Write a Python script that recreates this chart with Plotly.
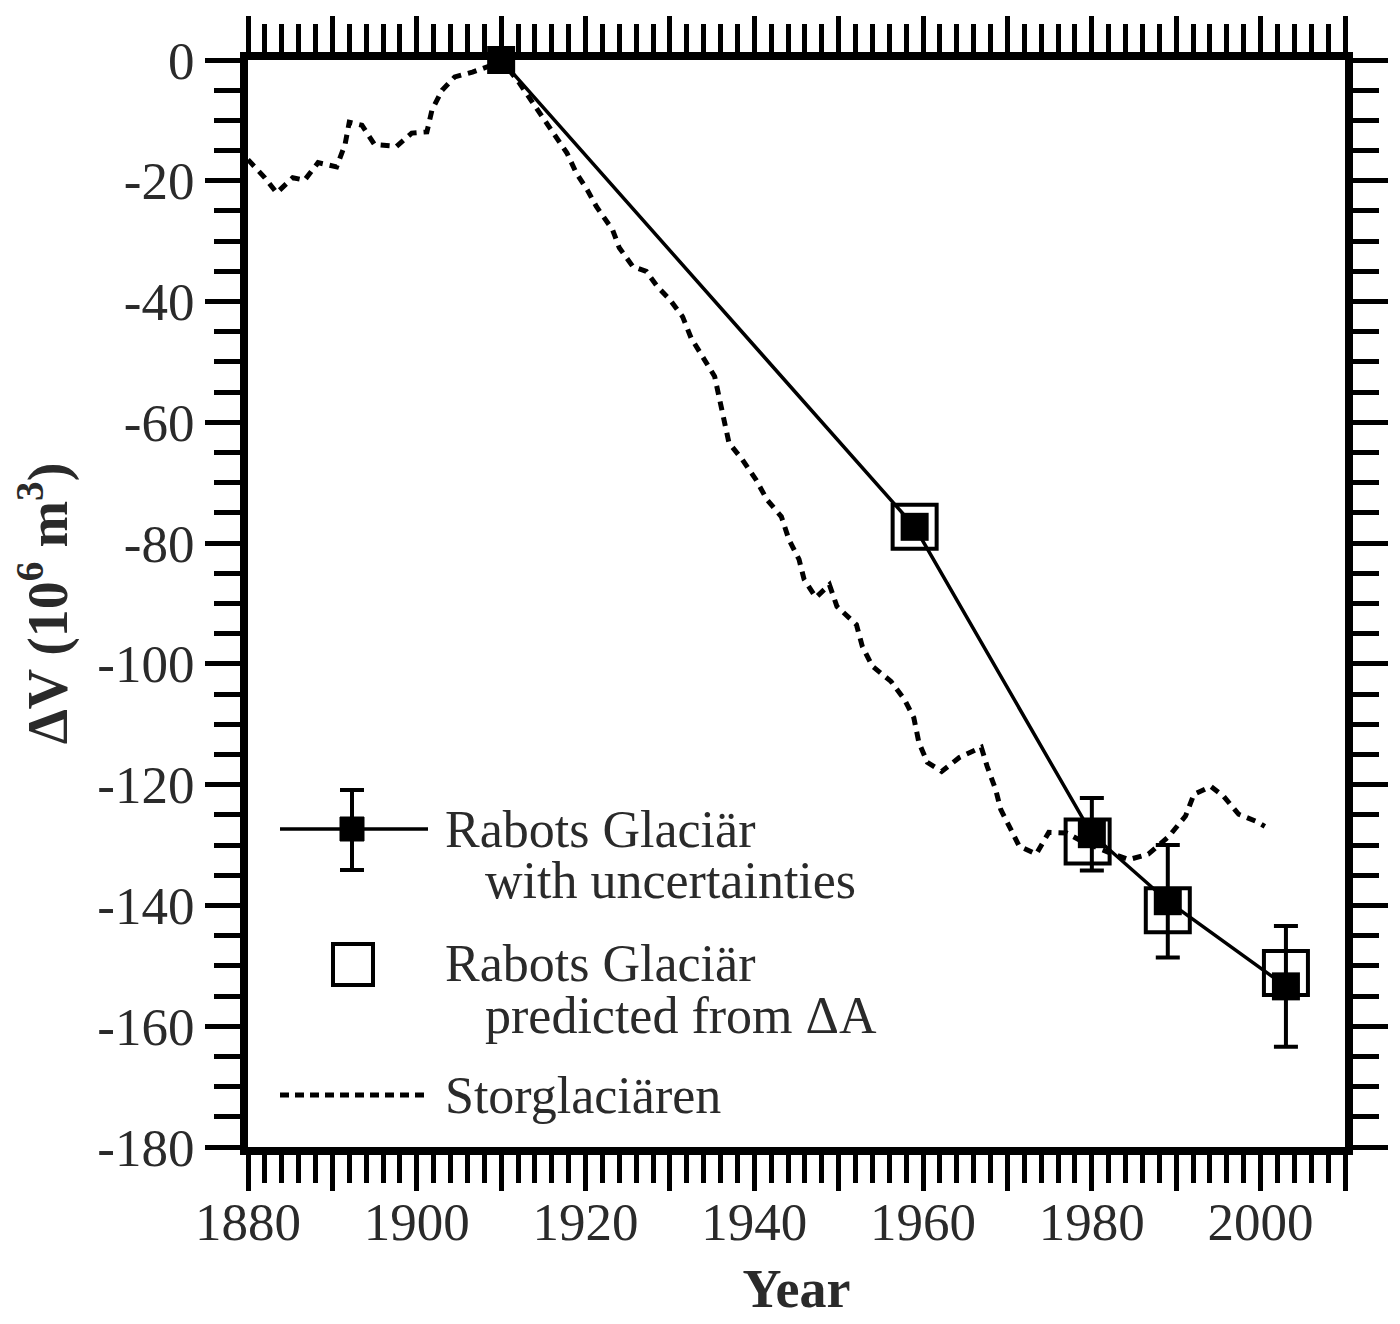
import plotly.graph_objects as go

# Rabots Glaciär, measured volume change with uncertainties
rabots_years = [1910, 1959, 1980, 1989, 2003]
rabots_dv = [0, -77.3, -128.2, -139.3, -153.4]
rabots_err = [0, 0, 6.0, 9.3, 10.0]

# Rabots Glaciär, predicted from area change
pred_years = [1959, 1979.5, 1989, 2003]
pred_dv = [-77.3, -129.4, -140.8, -151.2]

# Storglaciären volume change
stor_years = [1880, 1882, 1883.4, 1885.3, 1886.7, 1888.3, 1890.5, 1891.5, 1892, 1893.5,
              1895, 1897.6, 1899.4, 1901.2, 1901.8, 1903, 1904.5, 1906.6, 1909, 1910,
              1912, 1916, 1917.8, 1918.9, 1920.2, 1921.3, 1923.2, 1924, 1925.6, 1927.2,
              1928.5, 1930, 1931.5, 1932.5, 1933.9, 1935.3, 1935.9, 1936.4, 1937, 1938.6,
              1940.2, 1941.5, 1943.2, 1944.1, 1945.3, 1945.9, 1947.3, 1948.9, 1949.8, 1952.1,
              1952.8, 1954, 1956.2, 1957.8, 1958.9, 1959.5, 1960.5, 1962.2, 1964.3, 1966.9,
              1967.6, 1968.6, 1969.2, 1970.4, 1971.4, 1973.4, 1974.9, 1977, 1979, 1982,
              1984.4, 1986.7, 1989.1, 1991.1, 1992.1, 1994.1, 1995.6, 1997.4, 1999.5, 2000.5]
stor_dv = [-16.5, -19.5, -22, -19.5, -19.9, -17, -17.7, -14, -10.3, -10.8,
           -14, -14.3, -12.1, -11.9, -8.3, -5, -2.8, -2, -0.8, 0,
           -3.5, -11.6, -15.4, -18.7, -21.5, -24.3, -28.1, -31.1, -34.2, -35,
           -37.5, -39.7, -42.5, -46, -49.1, -52.4, -56.3, -59.6, -63.4, -66.2,
           -69.5, -72.8, -75.6, -79.4, -82.7, -86, -89, -86.9, -90.5, -93.5,
           -97.1, -100.4, -102.9, -105.9, -108.9, -113, -116.3, -117.8, -115.5, -113.8,
           -117, -120.8, -124.1, -127.4, -130.2, -131.5, -127.9, -128, -129.5, -131.2,
           -132.4, -131.5, -128.6, -125.2, -121.6, -120.3, -121.9, -124.9, -126.1, -126.9]

x_ticks = [1880, 1890, 1900, 1910, 1920, 1930, 1940, 1950, 1960, 1970, 1980, 1990, 2000, 2010]
x_labels = ["1880", "", "1900", "", "1920", "", "1940", "", "1960", "", "1980", "", "2000", ""]
y_ticks = [0, -20, -40, -60, -80, -100, -120, -140, -160, -180]
y_labels = ["0", "-20", "-40", "-60", "-80", "-100", "-120", "-140", "-160", "-180"]

legend_labels = [("Rabots Glaciär", "with uncertainties"),
                 ("Rabots Glaciär", "predicted from ΔA"),
                 ("Storglaciären", None)]

SERIF = "Liberation Serif"
TXT = "#2a2a2a"

fig = go.Figure()

fig.add_trace(go.Scatter(
    x=stor_years, y=stor_dv, mode="lines",
    line=dict(color="black", width=5, dash="9px,7px"),
    showlegend=False,
))

fig.add_trace(go.Scatter(
    x=pred_years, y=pred_dv, mode="markers",
    marker=dict(symbol="square-open", size=44, color="black", line=dict(width=4)),
    showlegend=False,
))

fig.add_trace(go.Scatter(
    x=rabots_years, y=rabots_dv, mode="lines+markers",
    line=dict(color="black", width=3.5),
    marker=dict(symbol="square", size=28, color="black"),
    error_y=dict(type="data", array=rabots_err, visible=True, color="black",
                 thickness=4, width=12),
    cliponaxis=False,
    showlegend=False,
))

# plot-area edges in page pixels; the page body adds an 8px offset
L, R, T, B = 248, 1345, 60, 1147
OFF = 8
W, H = 1400, 1324


def px(x):
    return (x - L) / (R - L)


def py(y):
    return (B - y) / (B - T)


shapes = [
    # entry 1: line + filled square + error bar
    dict(type="line", xref="paper", yref="paper", x0=px(280), x1=px(428), y0=py(829), y1=py(829),
         line=dict(color="black", width=3.5)),
    dict(type="line", xref="paper", yref="paper", x0=px(352), x1=px(352), y0=py(790), y1=py(870),
         line=dict(color="black", width=4)),
    dict(type="line", xref="paper", yref="paper", x0=px(340), x1=px(364), y0=py(790), y1=py(790),
         line=dict(color="black", width=4)),
    dict(type="line", xref="paper", yref="paper", x0=px(340), x1=px(364), y0=py(870), y1=py(870),
         line=dict(color="black", width=4)),
    dict(type="rect", xref="paper", yref="paper", x0=px(340), x1=px(364), y0=py(817), y1=py(841),
         fillcolor="black", line=dict(color="black", width=1)),
    # entry 2: open square
    dict(type="rect", xref="paper", yref="paper", x0=px(333), x1=px(373), y0=py(944), y1=py(985),
         fillcolor="rgba(0,0,0,0)", line=dict(color="black", width=4)),
    # entry 3: dotted line
    dict(type="line", xref="paper", yref="paper", x0=px(280), x1=px(428), y0=py(1095), y1=py(1095),
         line=dict(color="black", width=5, dash="9px,6px")),
]

annotations = []
label_rows = [(829, 880), (963, 1015), (1095, None)]
for (first, second), (y1, y2) in zip(legend_labels, label_rows):
    annotations.append(dict(xref="paper", yref="paper", x=px(443), y=py(y1), text=first,
                            showarrow=False, xanchor="left", yanchor="middle",
                            font=dict(family=SERIF, size=52, color=TXT)))
    if second:
        annotations.append(dict(xref="paper", yref="paper", x=px(483), y=py(y2), text=second,
                                showarrow=False, xanchor="left", yanchor="middle",
                                font=dict(family=SERIF, size=52, color=TXT)))

axis_common = dict(
    showline=True, linewidth=8, linecolor="black", mirror="ticks",
    ticks="outside", tickwidth=5, tickcolor="black",
    showgrid=False, zeroline=False, automargin=False,
    tickfont=dict(family=SERIF, size=53, color=TXT),
)

fig.update_layout(
    width=W, height=H,
    margin=dict(l=L - OFF, r=W + OFF - R, t=T - OFF, b=H + OFF - B, autoexpand=False),
    paper_bgcolor="white", plot_bgcolor="white",
    showlegend=False,
    shapes=shapes,
    annotations=annotations,
    xaxis=dict(
        range=[1880, 2010], tickmode="array", tickvals=x_ticks, ticktext=x_labels,
        ticklen=36, ticklabelstandoff=-15,
        minor=dict(dtick=2, ticks="outside", ticklen=28, tickwidth=5, tickcolor="black"),
        title=dict(text="<b>Year</b>", font=dict(family=SERIF, size=54, color=TXT), standoff=23),
        **axis_common,
    ),
    yaxis=dict(
        range=[-180, 0], tickmode="array", tickvals=y_ticks, ticktext=y_labels,
        ticklen=35,
        minor=dict(dtick=5, ticks="outside", ticklen=26, tickwidth=5, tickcolor="black"),
        title=dict(text="<b>ΔV (10<sup>6</sup> m<sup>3</sup>)</b>",
                   font=dict(family=SERIF, size=56, color=TXT), standoff=24),
        **axis_common,
    ),
)

fig.write_html("out.html")
